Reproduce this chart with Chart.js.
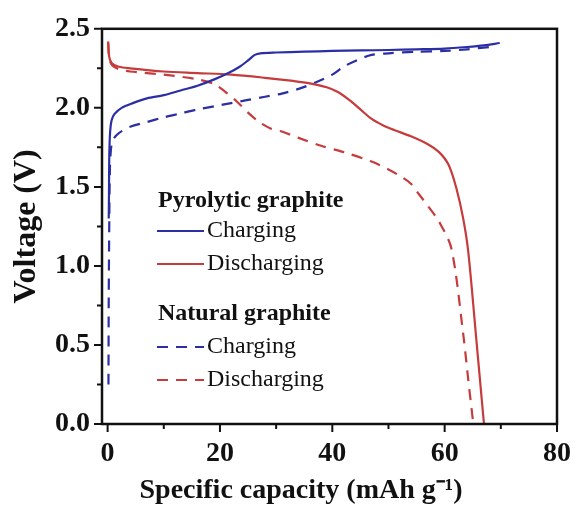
<!DOCTYPE html>
<html>
<head>
<meta charset="utf-8">
<script src="https://cdn.jsdelivr.net/npm/chart.js@4"></script>
<style>
  html, body { margin: 0; padding: 0; background: #fff; }
  #wrap { width: 584px; height: 509px; }
</style>
</head>
<body>
<div id="wrap"><canvas id="voltChart"></canvas></div>
<script>
// pyrolytic graphite, charging
const pyroChargeCap = [0.2, 0.25, 0.3, 0.45, 0.7, 1.2, 2.5, 4.5, 7, 10, 13, 16, 19, 21.5, 23.5, 25, 26.2, 27.2, 30, 35, 40, 45, 50, 55, 60, 64, 67, 69.8];
const pyroChargeV   = [1.30, 1.5, 1.7, 1.85, 1.92, 1.96, 2.0, 2.03, 2.06, 2.08, 2.11, 2.14, 2.18, 2.22, 2.26, 2.30, 2.335, 2.345, 2.35, 2.355, 2.36, 2.363, 2.366, 2.37, 2.375, 2.385, 2.395, 2.41];

// pyrolytic graphite, discharging
const pyroDischCap = [0.1, 0.3, 0.8, 2, 4, 10, 16, 22, 28, 33, 36, 39, 41, 43, 45, 47, 49, 51, 54, 57, 59, 60.7, 62.1, 63.3, 64.2, 65.6, 67.0];
const pyroDischV   = [2.42, 2.32, 2.28, 2.26, 2.25, 2.23, 2.22, 2.21, 2.19, 2.17, 2.155, 2.13, 2.10, 2.05, 1.99, 1.93, 1.89, 1.86, 1.82, 1.77, 1.72, 1.64, 1.49, 1.30, 1.09, 0.55, 0.0];

// natural graphite, charging
const natChargeCap = [0.15, 0.2, 0.3, 0.4, 0.6, 1, 2, 4, 7, 10, 13, 16, 19, 22, 25, 28, 31, 34, 37, 40, 42, 44.3, 47, 50, 55, 60, 64, 68];
const natChargeV   = [0.25, 0.8, 1.3, 1.6, 1.74, 1.80, 1.84, 1.88, 1.91, 1.94, 1.965, 1.99, 2.01, 2.03, 2.05, 2.07, 2.09, 2.12, 2.16, 2.21, 2.26, 2.30, 2.335, 2.345, 2.355, 2.36, 2.37, 2.385];

// natural graphite, discharging
const natDischCap = [0.1, 0.3, 0.8, 2, 4, 10, 16, 19, 21, 23, 25, 27, 29, 31, 34, 38, 42, 47, 50, 52, 54, 55.5, 57, 59, 61.2, 63.3, 64.2, 65.1];
const natDischV   = [2.41, 2.31, 2.27, 2.245, 2.23, 2.21, 2.18, 2.15, 2.10, 2.04, 1.97, 1.91, 1.87, 1.85, 1.81, 1.76, 1.72, 1.66, 1.61, 1.57, 1.52, 1.45, 1.38, 1.28, 1.11, 0.57, 0.28, 0.0];

// tick positions (majors get labels, the rest are minor marks)
const xTicks = [0, 10, 20, 30, 40, 50, 60, 70, 80];
const xMajorTicks = [0, 20, 40, 60, 80];
const yTicks = [0, 0.25, 0.5, 0.75, 1.0, 1.25, 1.5, 1.75, 2.0, 2.25, 2.5];
const yMajorTicks = [0.0, 0.5, 1.0, 1.5, 2.0, 2.5];

const BLUE = '#2b2fa3';
const RED = '#c63b3b';
const SERIF = '"Liberation Serif", "Times New Roman", serif';

const toPoints = (xs, ys) => xs.map((x, i) => ({ x: x, y: ys[i] }));
const isMajor = (list, v) => list.some(m => Math.abs(m - v) < 1e-6);

// box around the plot, tick marks, x title, in-plot legend
const framePlugin = {
    id: 'frame',
    afterDraw(chart) {
        const { ctx, chartArea: a, scales } = chart;
        ctx.save();
        ctx.strokeStyle = '#111';
        ctx.lineWidth = 2.5;
        ctx.strokeRect(a.left, a.top, a.right - a.left, a.bottom - a.top);

        ctx.lineWidth = 2;
        ctx.beginPath();
        scales.x.ticks.forEach(t => {
            const px = scales.x.getPixelForValue(t.value);
            const len = isMajor(xMajorTicks, t.value) ? 8 : 5;
            ctx.moveTo(px, a.bottom);
            ctx.lineTo(px, a.bottom + len);
        });
        scales.y.ticks.forEach(t => {
            const py = scales.y.getPixelForValue(t.value);
            const len = isMajor(yMajorTicks, t.value) ? 8 : 5;
            ctx.moveTo(a.left, py);
            ctx.lineTo(a.left - len, py);
        });
        ctx.stroke();

        ctx.fillStyle = '#111';
        ctx.textBaseline = 'middle';
        ctx.textAlign = 'center';
        ctx.font = 'bold 28px ' + SERIF;
        ctx.fillText('Specific capacity (mAh g\u207B\u00B9)', 301, 491);

        // legend
        const ds = chart.data.datasets;
        const rows = [
            { head: 'Pyrolytic graphite', y: 201 },
            { ds: ds[0], y: 231 },
            { ds: ds[1], y: 264 },
            { head: 'Natural graphite', y: 314 },
            { ds: ds[2], y: 347 },
            { ds: ds[3], y: 380 }
        ];
        ctx.textAlign = 'left';
        rows.forEach(r => {
            if (r.head) {
                ctx.font = 'bold 24px ' + SERIF;
                ctx.fillText(r.head, 158, r.y);
            } else {
                ctx.strokeStyle = r.ds.borderColor;
                ctx.lineWidth = 2.2;
                ctx.setLineDash(r.ds.borderDash || []);
                ctx.beginPath();
                ctx.moveTo(157, r.y);
                ctx.lineTo(204, r.y);
                ctx.stroke();
                ctx.setLineDash([]);
                ctx.font = '24px ' + SERIF;
                ctx.fillText(r.ds.label, 207, r.y);
            }
        });
        ctx.restore();
    }
};

const ctx = document.getElementById('voltChart');

new Chart(ctx, {
    type: 'line',
    data: {
        datasets: [
            {
                label: 'Charging',
                data: toPoints(pyroChargeCap, pyroChargeV),
                borderColor: BLUE,
                borderWidth: 2.2,
                tension: 0.3,
                pointRadius: 0,
                fill: false
            },
            {
                label: 'Discharging',
                data: toPoints(pyroDischCap, pyroDischV),
                borderColor: RED,
                borderWidth: 2.2,
                tension: 0.3,
                pointRadius: 0,
                fill: false
            },
            {
                label: 'Charging',
                data: toPoints(natChargeCap, natChargeV),
                borderColor: BLUE,
                borderWidth: 2.2,
                borderDash: [11, 8],
                tension: 0.3,
                pointRadius: 0,
                fill: false
            },
            {
                label: 'Discharging',
                data: toPoints(natDischCap, natDischV),
                borderColor: RED,
                borderWidth: 2.2,
                borderDash: [11, 8],
                tension: 0.3,
                pointRadius: 0,
                fill: false
            }
        ]
    },
    options: {
        responsive: true,
        maintainAspectRatio: false,
        animation: false,
        layout: { padding: { top: 26, right: 16, left: 0, bottom: 0 } },
        plugins: {
            legend: { display: false },
            tooltip: { enabled: false }
        },
        scales: {
            x: {
                type: 'linear',
                min: -1,
                max: 80,
                afterBuildTicks: s => {
                    s.ticks = xTicks.map(v => ({ value: v }));
                },
                afterFit: s => { s.height = 85; },
                grid: { display: false, drawTicks: false },
                border: { display: false },
                ticks: {
                    padding: 13,
                    autoSkip: false,
                    maxRotation: 0,
                    color: '#111',
                    font: { family: SERIF, size: 28, weight: 'bold' },
                    callback: v => (isMajor(xMajorTicks, v) ? String(v) : '')
                },
                title: { display: false }
            },
            y: {
                min: 0,
                max: 2.5,
                afterBuildTicks: s => {
                    s.ticks = yTicks.map(v => ({ value: v }));
                },
                afterFit: s => { s.width = 102; },
                grid: { display: false, drawTicks: false },
                border: { display: false },
                ticks: {
                    padding: 12,
                    autoSkip: false,
                    color: '#111',
                    font: { family: SERIF, size: 28, weight: 'bold' },
                    callback: v => (isMajor(yMajorTicks, v) ? v.toFixed(1) : '')
                },
                title: {
                    display: true,
                    text: 'Voltage (V)',
                    color: '#111',
                    padding: { top: 8, bottom: 0 },
                    font: { family: SERIF, size: 32, weight: 'bold' }
                }
            }
        }
    },
    plugins: [framePlugin]
});
</script>
</body>
</html>
